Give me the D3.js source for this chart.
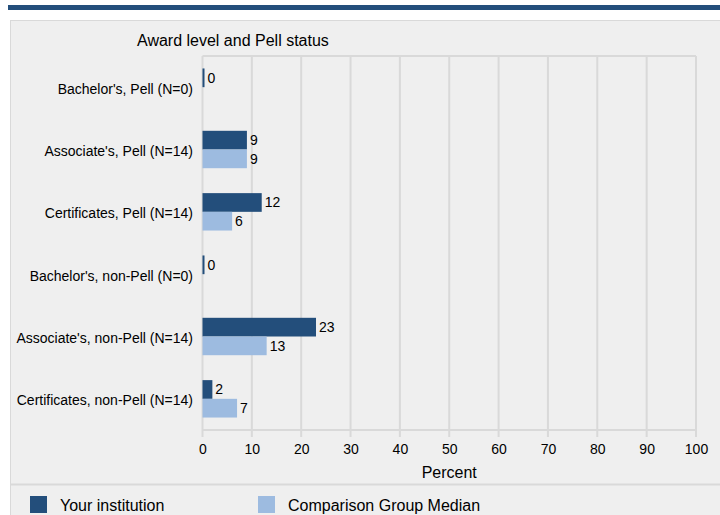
<!DOCTYPE html>
<html>
<head>
<meta charset="utf-8">
<script src="https://cdn.jsdelivr.net/npm/d3@7"></script>
<style>
  html, body { margin: 0; padding: 0; background: #ffffff; }
  svg { display: block; font-family: "Liberation Sans", Arial, sans-serif; }
</style>
</head>
<body>
<svg id="chart" width="720" height="515"></svg>
<script>
const categories = [
  "Bachelor's, Pell (N=0)",
  "Associate's, Pell (N=14)",
  "Certificates, Pell (N=14)",
  "Bachelor's, non-Pell (N=0)",
  "Associate's, non-Pell (N=14)",
  "Certificates, non-Pell (N=14)"
];
const seriesNames = ["Your institution", "Comparison Group Median"];
const institution = [0, 9, 12, 0, 23, 2];
const comparison = [null, 9, 6, null, 13, 7];
const xTicks = [0, 10, 20, 30, 40, 50, 60, 70, 80, 90, 100];
const colors = ["#234e7b", "#9dbbe0"];

const FONT = "Liberation Sans, Arial, sans-serif";
const svg = d3.select("#chart");

// top rule
svg.append("rect").attr("x", 8).attr("y", 5).attr("width", 712).attr("height", 5).attr("fill", "#234e7b");

// panel
svg.append("rect").attr("x", 10.5).attr("y", 20.5).attr("width", 720).attr("height", 520)
  .attr("fill", "#efefef").attr("stroke", "#d9d9d9").attr("stroke-width", 1);

// separator
svg.append("line").attr("x1", 11).attr("x2", 720).attr("y1", 484.5).attr("y2", 484.5)
  .attr("stroke", "#d9d9d9").attr("stroke-width", 2);

// title
svg.append("text").attr("x", 137).attr("y", 46).attr("font-size", 16).attr("fill", "#000")
  .text("Award level and Pell status");

const x = d3.scaleLinear().domain([0, 100]).range([202.5, 696]);
const y = d3.scaleBand().domain(categories).range([56, 430]).paddingInner(0.4).paddingOuter(0.2);
const ys = d3.scaleBand().domain(seriesNames).range([0, y.bandwidth()]);

// grid
const grid = svg.append("g");
grid.selectAll("line.g").data(xTicks).join("line")
  .attr("x1", d => x(d)).attr("x2", d => x(d)).attr("y1", 56).attr("y2", 437)
  .attr("stroke", "#d9d9d9").attr("stroke-width", 2);
grid.append("line").attr("x1", x(0)).attr("x2", x(100)).attr("y1", 56).attr("y2", 56)
  .attr("stroke", "#d9d9d9").attr("stroke-width", 2);
grid.append("line").attr("x1", x(0)).attr("x2", x(100)).attr("y1", 430).attr("y2", 430)
  .attr("stroke", "#d9d9d9").attr("stroke-width", 2);

// x axis labels
const xAxis = d3.axisBottom(x).tickValues(xTicks).tickSize(0).tickPadding(0);
const xg = svg.append("g").attr("transform", "translate(0,444)").call(xAxis);
xg.select(".domain").remove();
xg.selectAll("text").attr("font-size", 14).attr("fill", "#000").attr("font-family", FONT);

svg.append("text").attr("x", (x(0) + x(100)) / 2).attr("y", 478).attr("text-anchor", "middle")
  .attr("font-size", 16).attr("fill", "#000").text("Percent");

// y axis labels
const yAxis = d3.axisLeft(y).tickSize(0).tickPadding(0);
const yg = svg.append("g").attr("transform", "translate(193,0)").call(yAxis);
yg.select(".domain").remove();
yg.selectAll("text").attr("font-size", 14).attr("fill", "#000").attr("font-family", FONT);
yg.selectAll(".tick").attr("transform", d => `translate(0,${y(d) + y.bandwidth() / 2 + 2})`);

// bars
const series = [institution, comparison];
series.forEach((vals, si) => {
  const rows = categories.map((c, i) => ({ c, v: vals[i] })).filter(d => d.v !== null);
  const g = svg.append("g");
  g.selectAll("rect").data(rows).join("rect")
    .attr("x", x(0))
    .attr("y", d => y(d.c) + ys(seriesNames[si]))
    .attr("width", d => Math.max(x(d.v) - x(0), 2))
    .attr("height", ys.bandwidth())
    .attr("fill", colors[si]);
  g.selectAll("text").data(rows).join("text")
    .attr("x", d => x(0) + Math.max(x(d.v) - x(0), 2) + 3)
    .attr("y", d => y(d.c) + ys(seriesNames[si]) + ys.bandwidth() / 2 + 5)
    .attr("font-size", 14).attr("fill", "#000")
    .text(d => d.v);
});

// legend
const legendX = [30, 258];
seriesNames.forEach((name, i) => {
  svg.append("rect").attr("x", legendX[i]).attr("y", 496).attr("width", 17).attr("height", 17).attr("fill", colors[i]);
  svg.append("text").attr("x", legendX[i] + 30).attr("y", 511).attr("font-size", 16).attr("fill", "#000").text(name);
});
</script>
</body>
</html>
